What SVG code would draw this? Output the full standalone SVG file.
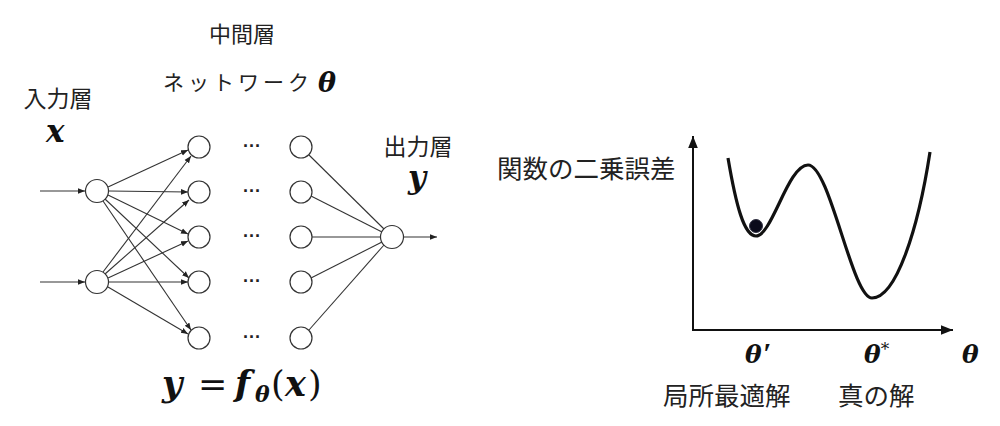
<svg xmlns="http://www.w3.org/2000/svg" width="1000" height="426" viewBox="0 0 1000 426">
<style>
.jp{font-family:"Noto Sans CJK JP","Noto Sans",sans-serif;fill:#222}
.m{font-family:"DejaVu Serif","Liberation Serif",serif;font-weight:bold;font-style:italic;fill:#111}
.r{font-family:"DejaVu Serif","Liberation Serif",serif;font-weight:normal;font-style:normal}
.n{fill:#fff;stroke:#333;stroke-width:1.2}
.e{stroke:#333;stroke-width:1.1;fill:none}
.ea{stroke:#333;stroke-width:1.1;fill:none;marker-end:url(#ah)}
.dots{font-family:"Liberation Sans",sans-serif;font-size:18px;font-weight:bold;fill:#222}
</style>
<defs>
<marker id="ah" viewBox="0 0 10 10" refX="10" refY="5" markerWidth="7" markerHeight="7" markerUnits="userSpaceOnUse" orient="auto">
<path d="M0,1 L10,5 L0,9 z" fill="#222"/>
</marker>
<marker id="ah2" viewBox="0 0 10 10" refX="10" refY="5" markerWidth="12" markerHeight="12" markerUnits="userSpaceOnUse" orient="auto">
<path d="M0,1 L10,5 L0,9 z" fill="#111"/>
</marker>
</defs>
<rect width="1000" height="426" fill="#fff"/>

<g id="labels-left">
<text class="jp" x="242" y="42" font-size="22" text-anchor="middle">中間層</text>
<text class="jp" x="163" y="90" font-size="21" letter-spacing="4">ネットワーク</text>
<text class="m" x="318" y="92" font-size="27">θ</text>
<text class="jp" x="58" y="107" font-size="23" text-anchor="middle">入力層</text>
<text class="m" x="46" y="142" font-size="31">x</text>
<text class="jp" x="418" y="155" font-size="23" text-anchor="middle">出力層</text>
<text class="m" x="408" y="188" font-size="31">y</text>
<text class="m" y="396" font-size="35"><tspan x="162">y</tspan><tspan class="r" x="198">=</tspan><tspan x="235">f</tspan><tspan font-size="22" x="255" dy="6">θ</tspan><tspan class="r" x="271" dy="-6">(</tspan><tspan x="285">x</tspan><tspan class="r" x="308">)</tspan></text>
</g>

<g id="connectors">
<line class="ea" x1="40" y1="191" x2="85" y2="191"/>
<line class="ea" x1="40" y1="282" x2="85" y2="282"/>
<line class="ea" x1="108" y1="187" x2="188" y2="150"/>
<line class="ea" x1="109" y1="191" x2="188" y2="192"/>
<line class="ea" x1="108" y1="195" x2="188" y2="234"/>
<line class="ea" x1="105" y1="199" x2="189" y2="278"/>
<line class="ea" x1="103" y1="201" x2="191" y2="330"/>
<line class="ea" x1="103" y1="272" x2="191" y2="156"/>
<line class="ea" x1="105" y1="274" x2="189" y2="200"/>
<line class="ea" x1="108" y1="278" x2="188" y2="241"/>
<line class="ea" x1="109" y1="282" x2="188" y2="282"/>
<line class="ea" x1="108" y1="287" x2="188" y2="334"/>
<line class="e" x1="309" y1="155" x2="384" y2="229"/>
<line class="e" x1="311" y1="196" x2="382" y2="232"/>
<line class="e" x1="312" y1="237" x2="381" y2="237"/>
<line class="e" x1="311" y1="278" x2="382" y2="242"/>
<line class="e" x1="309" y1="330" x2="384" y2="245"/>
<line class="ea" x1="403" y1="237" x2="437" y2="237"/>
</g>

<g id="input-nodes">
<circle class="n" cx="97" cy="191" r="11.5"/>
<circle class="n" cx="97" cy="282" r="11.5"/>
</g>
<g id="hidden1">
<circle class="n" cx="199" cy="147" r="11"/>
<circle class="n" cx="199" cy="192" r="11"/>
<circle class="n" cx="199" cy="237" r="11"/>
<circle class="n" cx="199" cy="282" r="11"/>
<circle class="n" cx="199" cy="338" r="11"/>
</g>
<g id="dots">
<text class="dots" x="252" y="152" text-anchor="middle">···</text>
<text class="dots" x="252" y="197" text-anchor="middle">···</text>
<text class="dots" x="252" y="242" text-anchor="middle">···</text>
<text class="dots" x="252" y="287" text-anchor="middle">···</text>
<text class="dots" x="252" y="343" text-anchor="middle">···</text>
</g>
<g id="hidden2">
<circle class="n" cx="301" cy="147" r="11"/>
<circle class="n" cx="301" cy="192" r="11"/>
<circle class="n" cx="301" cy="237" r="11"/>
<circle class="n" cx="301" cy="282" r="11"/>
<circle class="n" cx="301" cy="338" r="11"/>
</g>
<g id="output-node">
<circle class="n" cx="392" cy="237" r="11.5"/>
</g>

<g id="chart">
<line x1="693" y1="331" x2="693" y2="136" stroke="#111" stroke-width="2" marker-end="url(#ah2)"/>
<line x1="692" y1="330" x2="953" y2="330" stroke="#111" stroke-width="2" marker-end="url(#ah2)"/>
<path d="M728,158 C736,205 744,236 756,236 C772,236 788,165 808,165 C830,165 852,298 872,298 C896,298 918,230 930,152" fill="none" stroke="#111" stroke-width="3.2"/>
<circle cx="756" cy="226" r="6.5" fill="#0a0a1a" stroke="#334" stroke-width="1"/>
<text class="jp" x="497" y="178" font-size="25.5">関数の二乗誤差</text>
<text class="m" x="745" y="363" font-size="25">θ<tspan font-family="Liberation Serif" font-style="italic" font-weight="bold" font-size="30" dx="1">′</tspan></text>
<text class="m" x="864" y="363" font-size="25">θ<tspan class="r" font-weight="bold" font-size="17" dy="-8">*</tspan></text>
<text class="m" x="962" y="363" font-size="25">θ</text>
<text class="jp" x="663" y="405" font-size="25.5">局所最適解</text>
<text class="jp" x="838" y="405" font-size="25.5">真の解</text>
</g>
</svg>
